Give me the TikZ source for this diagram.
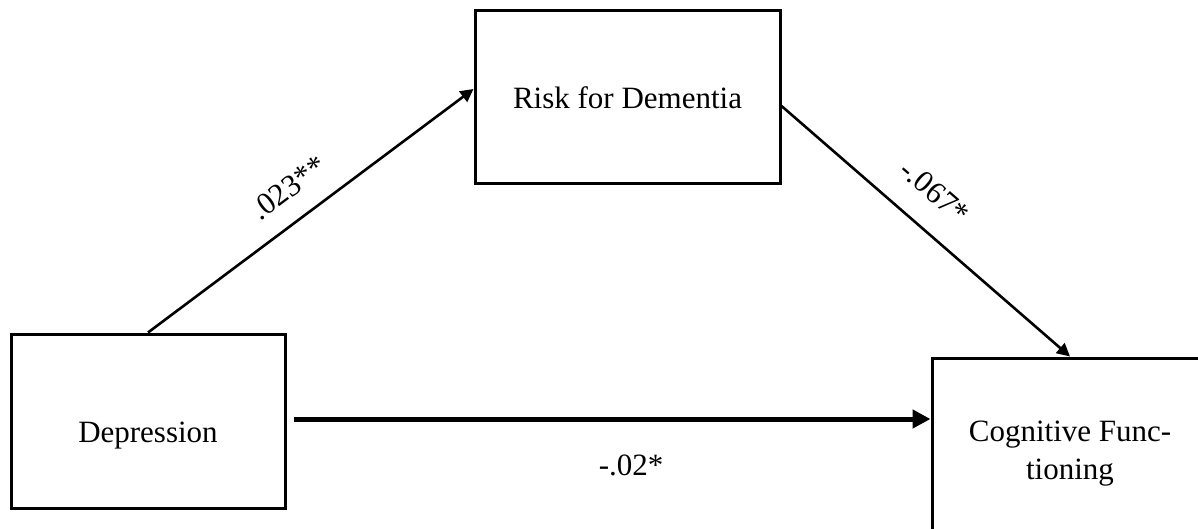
\documentclass[tikz,border=0pt]{standalone}
\usepackage{fontspec}
\setmainfont{Liberation Serif}
\usetikzlibrary{arrows.meta,positioning}

\tikzset{
    varbox/.style={draw, line width=1.5pt, inner sep=0pt, align=center,
        font=\fontsize{15.5}{19}\selectfont},
    path/.style={line width=1.3pt, -{Triangle[length=6.5pt,width=6.5pt]}},
    direct/.style={line width=2.5pt, -{Triangle[length=9pt,width=9pt]}},
    coef/.style={inner sep=0pt, font=\fontsize{15.5}{19}\selectfont}
}

\begin{document}
\begin{tikzpicture}[x=0.5pt, y=-0.5pt]
    \useasboundingbox (0,0) rectangle (1198,529);
    \clip (0,0) rectangle (1198,529);
    % variables
    \node[varbox, minimum width=137pt, minimum height=87pt, text height=24.5pt] (dep) at (148,421) {Depression};
    \node[varbox, minimum width=152.5pt, minimum height=86.5pt] (risk) at (627.5,97.5) {Risk for Dementia};
    \node[varbox, minimum width=138pt, minimum height=88pt] (cog) at (1070,446) {\rule{0pt}{18pt}Cognitive Func-\\tioning};
    % paths
    \draw[path] (dep.north) -- ([yshift=4.25pt]risk.west)
        node[coef, sloped, above=10pt, pos=0.49] (a) {.023**};
    \draw[path] ([yshift=-4.25pt]risk.east) -- (cog.north)
        node[coef, sloped, above=12pt, pos=0.45] (b) {-.067*};
    \draw[direct] ([xshift=3.5pt,yshift=1pt]dep.east) -- ([yshift=1pt]dep.east -| cog.west)
        node[coef, below=16.5pt, pos=0.53] (c) {-.02*};
\end{tikzpicture}
\end{document}
